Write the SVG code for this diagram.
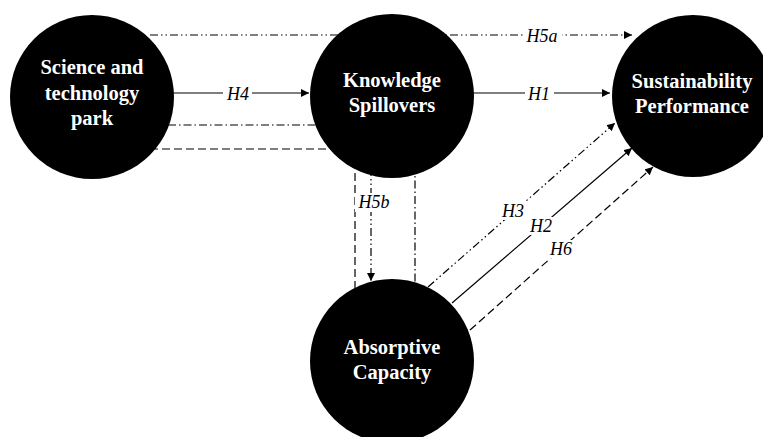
<svg xmlns="http://www.w3.org/2000/svg" width="763" height="437" viewBox="0 0 763 437">
  <defs>
    <marker id="arrow" viewBox="0 0 10 10" refX="10" refY="5" markerWidth="8" markerHeight="8" markerUnits="userSpaceOnUse" orient="auto">
      <path d="M0,0 L10,5 L0,10 z" fill="#000"/>
    </marker>
    <style>
      .node { fill: #000; }
      .nlabel { font-weight: bold; font-size: 20.5px; fill: #fff; text-anchor: middle; }
      .elabel { font-style: italic; font-size: 18px; fill: #000; text-anchor: middle; }
      .edge { stroke: #000; stroke-width: 1.2; fill: none; }
      .dashed { stroke-dasharray: 8 4; }
      .dashdot { stroke-dasharray: 8 3 1.5 3; }
      .dashdotdot { stroke-dasharray: 8 3 1.5 3 1.5 3; }
      .bg { fill: #fff; }
    </style>
  </defs>

  <!-- connectors, drawn beneath the nodes -->
  <g id="connectors" font-family="'Liberation Serif', 'DejaVu Serif', serif">
    <!-- H5a: park to performance, over the top -->
    <line class="edge dashdotdot" x1="150" y1="35" x2="632" y2="35" marker-end="url(#arrow)"/>
    <!-- H4 -->
    <line class="edge" x1="172" y1="93" x2="309" y2="93" marker-end="url(#arrow)"/>
    <!-- H1 -->
    <line class="edge" x1="473" y1="93" x2="610" y2="93" marker-end="url(#arrow)"/>
    <!-- moderation routes from the park down to absorptive capacity -->
    <line class="edge dashdot" x1="168" y1="125" x2="330" y2="125"/>
    <line class="edge dashed" x1="150" y1="149" x2="355" y2="149"/>
    <line class="edge dashed" x1="355" y1="149" x2="355" y2="290"/>
    <line class="edge dashdot" x1="415" y1="165" x2="415" y2="290"/>
    <!-- H5b -->
    <line class="edge dashdotdot" x1="371" y1="168" x2="371" y2="281" marker-end="url(#arrow)"/>
    <!-- H3 -->
    <line class="edge dashdotdot" x1="428" y1="287" x2="615" y2="123" marker-end="url(#arrow)"/>
    <!-- H2 -->
    <line class="edge" x1="452" y1="303" x2="632" y2="148" marker-end="url(#arrow)"/>
    <!-- H6 -->
    <line class="edge dashed" x1="470" y1="330" x2="653" y2="167" marker-end="url(#arrow)"/>

    <!-- hypothesis labels -->
    <rect class="bg" x="523" y="27" width="39" height="18"/>
    <text class="elabel" x="542" y="42">H5a</text>
    <rect class="bg" x="223" y="85" width="29" height="18"/>
    <text class="elabel" x="238" y="99.5">H4</text>
    <rect class="bg" x="525" y="85" width="29" height="18"/>
    <text class="elabel" x="539" y="99.5">H1</text>
    <rect class="bg" x="355" y="193" width="38" height="19"/>
    <text class="elabel" x="374" y="208">H5b</text>
    <rect class="bg" x="499" y="202" width="29" height="18"/>
    <text class="elabel" x="513" y="217">H3</text>
    <rect class="bg" x="526" y="217" width="30" height="18"/>
    <text class="elabel" x="541" y="232">H2</text>
    <rect class="bg" x="546" y="240" width="30" height="18"/>
    <text class="elabel" x="561" y="255">H6</text>
  </g>

  <g id="science-park" font-family="'Liberation Serif', 'DejaVu Serif', serif">
    <circle class="node" cx="92" cy="97" r="82"/>
    <text class="nlabel" x="92" y="74">Science and</text>
    <text class="nlabel" x="92" y="99.5">technology</text>
    <text class="nlabel" x="92" y="125">park</text>
  </g>

  <g id="knowledge-spillovers" font-family="'Liberation Serif', 'DejaVu Serif', serif">
    <circle class="node" cx="392" cy="96" r="82"/>
    <text class="nlabel" x="392" y="87">Knowledge</text>
    <text class="nlabel" x="392" y="112">Spillovers</text>
  </g>

  <g id="sustainability-performance" font-family="'Liberation Serif', 'DejaVu Serif', serif">
    <circle class="node" cx="693" cy="96" r="81"/>
    <text class="nlabel" x="692" y="88">Sustainability</text>
    <text class="nlabel" x="692" y="113">Performance</text>
  </g>

  <g id="absorptive-capacity" font-family="'Liberation Serif', 'DejaVu Serif', serif">
    <circle class="node" cx="392" cy="361" r="82"/>
    <text class="nlabel" x="392" y="354">Absorptive</text>
    <text class="nlabel" x="392" y="379">Capacity</text>
  </g>
</svg>
